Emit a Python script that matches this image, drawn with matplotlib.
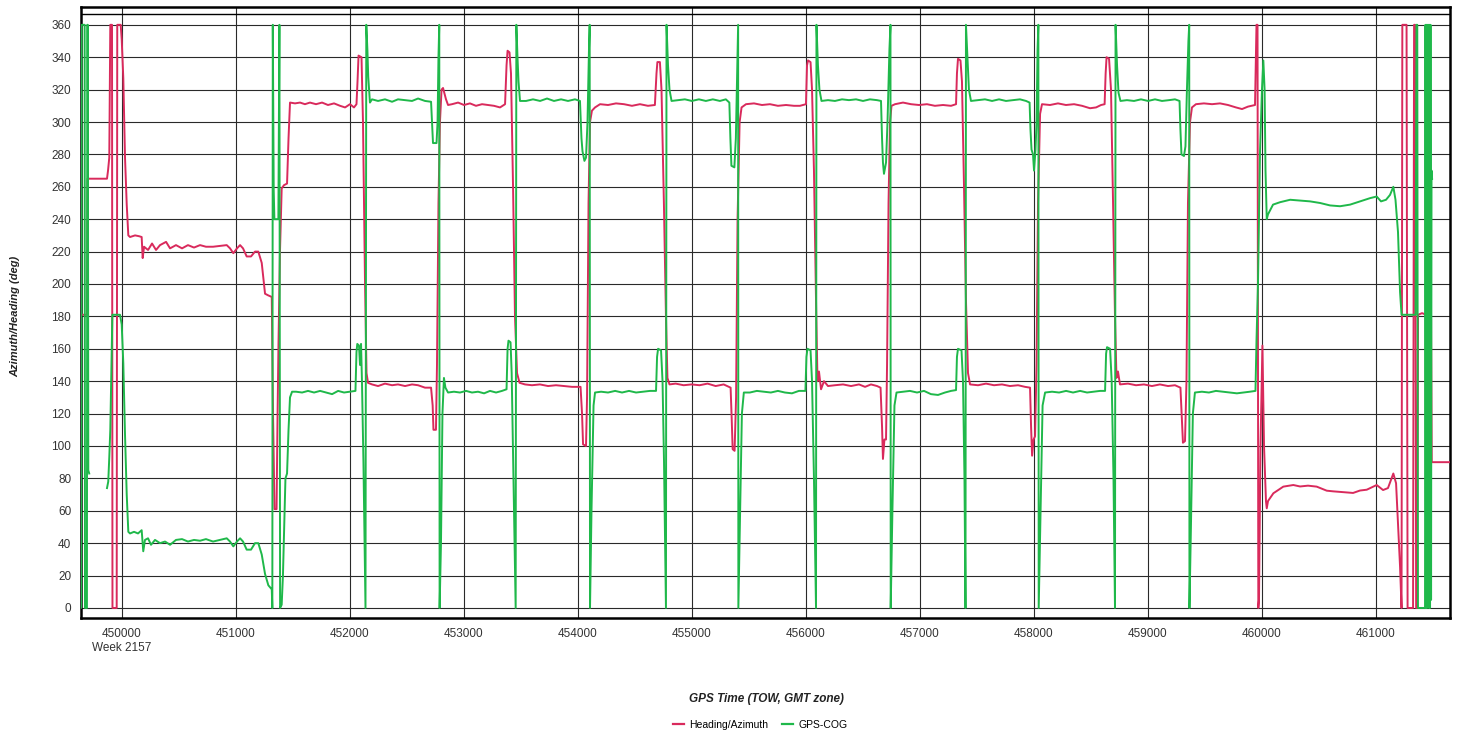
import numpy as np
import matplotlib
matplotlib.use('Agg')
import matplotlib.pyplot as plt
from matplotlib.lines import Line2D

plt.rcParams['font.family'] = ['Liberation Sans', 'DejaVu Sans']

# GPS time of week (s) / degrees
heading_pts = [
    (449640, 181), (449696, 181), (449700, 265), (449871, 265), (449880, 270), (449891, 278),
    (449900, 360), (449915, 360), (449919, 0), (449956, 0), (449961, 360), (449991, 360),
    (450000, 351), (450014, 327), (450029, 278), (450044, 249), (450058, 230), (450073, 229),
    (450117, 230), (450152, 229.5), (450175, 229), (450184, 216), (450196, 223), (450231, 221),
    (450266, 225), (450301, 221), (450336, 224), (450389, 226), (450424, 222), (450476, 224),
    (450529, 222), (450581, 224), (450634, 222.5), (450687, 224), (450739, 223), (450801, 223),
    (450862, 223.5), (450921, 224), (450950, 222), (450979, 219), (451011, 222), (451038, 224),
    (451064, 222), (451096, 217), (451134, 217), (451169, 220), (451198, 220), (451228, 213),
    (451257, 194), (451284, 193), (451316, 192), (451327, 120), (451340, 61), (451358, 61),
    (451367, 120), (451375, 163), (451388, 220), (451403, 259), (451423, 261), (451450, 262),
    (451463, 290), (451476, 312),
    (451520, 311.5), (451564, 312), (451607, 311), (451651, 312), (451704, 311), (451757, 312),
    (451809, 310.5), (451862, 311.5), (451915, 310), (451959, 309), (452002, 311), (452037, 309),
    (452059, 311),
    (452068, 325), (452077, 341), (452103, 340), (452116, 300), (452134, 200), (452147, 145),
    (452160, 139),
    (452195, 138), (452248, 137), (452309, 138.5), (452371, 137.5), (452423, 138), (452485, 137),
    (452546, 138), (452599, 137.5), (452660, 136), (452713, 136),
    (452727, 125), (452734, 110), (452756, 110), (452765, 150), (452778, 250), (452791, 300),
    (452805, 320), (452818, 321), (452844, 314), (452862, 310.5),
    (452897, 311), (452950, 312), (453002, 310.5), (453054, 311.5), (453107, 310), (453160, 311),
    (453212, 310.5), (453265, 310), (453318, 309), (453362, 311),
    (453375, 335), (453384, 344), (453401, 343), (453414, 330), (453432, 260), (453449, 180),
    (453467, 145), (453489, 139),
    (453537, 138), (453598, 137.5), (453668, 138), (453739, 137), (453809, 137.5), (453879, 137),
    (453949, 136.5), (454024, 136.5),
    (454037, 120), (454046, 101), (454072, 100), (454081, 130), (454094, 250), (454107, 300),
    (454124, 307), (454151, 309),
    (454195, 311), (454265, 310.5), (454335, 311.5), (454405, 311), (454475, 310), (454545, 311),
    (454615, 310), (454676, 310.5),
    (454690, 330), (454698, 337), (454720, 337), (454734, 320), (454755, 250), (454773, 180),
    (454786, 142), (454804, 138),
    (454858, 138.5), (454928, 137.5), (454998, 138), (455068, 137.5), (455138, 138.5), (455209, 137),
    (455279, 138), (455340, 136),
    (455349, 118), (455358, 98), (455375, 97), (455388, 130), (455401, 240), (455419, 300),
    (455436, 309),
    (455475, 311), (455545, 311.5), (455615, 310.5), (455685, 311), (455755, 310), (455826, 310.5),
    (455896, 310), (455948, 310), (456001, 311),
    (456010, 335), (456019, 338), (456041, 337), (456054, 320), (456071, 270), (456089, 190),
    (456102, 140), (456115, 146), (456133, 135), (456159, 140), (456194, 137),
    (456255, 137.5), (456326, 138), (456396, 137), (456466, 138), (456519, 136.5), (456571, 138),
    (456624, 137), (456655, 136),
    (456668, 112), (456676, 92), (456689, 104), (456703, 104), (456712, 150), (456725, 250),
    (456738, 300), (456751, 310),
    (456782, 311), (456852, 312), (456922, 311), (456992, 310.5), (457062, 311), (457132, 310),
    (457203, 310.5), (457273, 310), (457317, 311),
    (457325, 330), (457334, 339), (457356, 338), (457369, 325), (457387, 260), (457404, 190),
    (457422, 145), (457440, 138),
    (457510, 137.5), (457580, 138.5), (457650, 137.5), (457720, 138), (457790, 137), (457861, 137.5),
    (457922, 136.5), (457966, 136),
    (457975, 112), (457984, 94), (457997, 104), (458010, 106), (458023, 150), (458036, 250),
    (458054, 305), (458071, 311),
    (458141, 310.5), (458211, 311.5), (458281, 310.5), (458352, 311), (458422, 310), (458492, 308.5),
    (458545, 309), (458589, 310.5), (458620, 311),
    (458629, 330), (458637, 340), (458659, 339), (458676, 320), (458694, 250), (458711, 180),
    (458724, 142), (458737, 146), (458755, 138),
    (458825, 138.5), (458895, 137.5), (458965, 138), (459035, 137), (459105, 138), (459176, 137),
    (459237, 137.5), (459285, 136),
    (459299, 115), (459307, 102), (459325, 103), (459338, 140), (459351, 250), (459369, 300),
    (459386, 309),
    (459421, 311), (459491, 311.5), (459562, 311), (459632, 311.5), (459702, 310.5), (459772, 309),
    (459825, 308), (459877, 309.5), (459939, 310.5),
    (459952, 360), (459961, 360), (459968, 0), (459974, 5), (459987, 100), (460004, 162),
    (460018, 100), (460035, 66), (460042, 61.5), (460053, 66), (460100, 70.8), (460187, 74.9),
    (460275, 75.9), (460334, 75), (460404, 75.5), (460480, 74.9), (460568, 72.4), (460623, 72),
    (460711, 71.5), (460799, 71), (460860, 72.5), (460919, 73), (461006, 75.9), (461062, 72.8),
    (461105, 74), (461152, 83), (461176, 77), (461193, 52), (461211, 25.5), (461224, 0),
    (461231, 360), (461268, 360), (461277, 0), (461325, 0), (461334, 360), (461343, 360),
    (461352, 0), (461360, 0), (461369, 181), (461404, 182), (461439, 181), (461474, 182),
    (461480, 95), (461483, 178), (461489, 90), (461660, 90),
]

cog_pts = [
    (449640, 0), (449644, 0), (449648, 360), (449675, 360), (449678, 0), (449695, 0),
    (449698, 360), (449703, 360), (449707, 85), (449715, 83), (np.nan, np.nan),
    (449871, 74), (449882, 78), (449891, 93), (449900, 110), (449910, 150), (449918, 181),
    (449985, 181), (450000, 175), (450014, 151), (450029, 107), (450044, 70), (450058, 47),
    (450073, 46), (450108, 47), (450143, 46), (450175, 48), (450189, 35), (450204, 42),
    (450231, 43), (450257, 39), (450292, 42), (450336, 40), (450380, 41), (450424, 39),
    (450476, 42), (450529, 42.5), (450581, 41), (450634, 42), (450687, 41.5), (450739, 42.5),
    (450801, 41), (450862, 42), (450921, 43), (450950, 41), (450979, 38), (451011, 41),
    (451038, 43), (451064, 41), (451096, 36), (451134, 36), (451169, 40), (451198, 40),
    (451228, 33), (451257, 21), (451286, 14), (451316, 11.5),
    (451321, 0), (451325, 360), (451333, 258), (451339, 240), (451374, 240), (451383, 360),
    (451389, 0), (451403, 2), (451414, 20), (451436, 80), (451450, 83), (451463, 110),
    (451476, 130), (451494, 133.5),
    (451529, 133.5), (451582, 133), (451634, 134), (451687, 133), (451740, 134), (451792, 133),
    (451845, 132), (451898, 134), (451950, 133), (452002, 133.5), (452050, 134),
    (452059, 158), (452066, 163), (452081, 162), (452090, 150), (452099, 163), (452107, 140),
    (452120, 90), (452138, 0), (452145, 360), (452155, 344), (452162, 328), (452177, 312),
    (452195, 314),
    (452248, 313), (452309, 314), (452371, 312.5), (452423, 314), (452485, 313.5), (452546, 313),
    (452599, 314.5), (452660, 313), (452713, 312.5),
    (452721, 300), (452730, 287), (452761, 287), (452770, 300), (452778, 340), (452785, 360),
    (452788, 0), (452800, 40), (452813, 120), (452826, 142), (452839, 136), (452862, 133),
    (452914, 133.5), (452967, 133), (453020, 134), (453072, 133), (453125, 133.5), (453178, 132.5),
    (453230, 134), (453283, 133), (453335, 134), (453375, 135),
    (453384, 160), (453392, 165), (453410, 164), (453420, 145), (453436, 80), (453455, 0),
    (453461, 360), (453471, 340), (453480, 325), (453493, 313),
    (453546, 313), (453607, 314), (453669, 313), (453730, 314.5), (453791, 313), (453853, 314),
    (453914, 313), (453975, 314), (454019, 313),
    (454032, 290), (454041, 282), (454058, 276), (454072, 278), (454085, 300), (454098, 345),
    (454104, 360), (454107, 0), (454120, 60), (454138, 125), (454151, 133),
    (454204, 133.5), (454265, 133), (454327, 134), (454388, 133), (454449, 134), (454511, 133),
    (454572, 133.5), (454633, 134), (454686, 134),
    (454695, 155), (454704, 160), (454730, 159), (454743, 140), (454756, 90), (454773, 0),
    (454778, 360), (454791, 335), (454804, 320), (454822, 313),
    (454878, 313.5), (454939, 314), (455000, 313), (455062, 314), (455123, 313), (455184, 314),
    (455246, 313), (455298, 314), (455329, 312),
    (455338, 290), (455347, 273), (455373, 272), (455386, 290), (455400, 340), (455406, 360),
    (455408, 0), (455421, 50), (455439, 120), (455456, 133),
    (455509, 133), (455570, 134), (455632, 133.5), (455693, 133), (455755, 134), (455816, 133),
    (455878, 132.5), (455939, 134), (455996, 134),
    (456005, 155), (456014, 160), (456041, 159), (456054, 140), (456071, 80), (456089, 0),
    (456093, 360), (456106, 335), (456119, 320), (456137, 313),
    (456194, 313.5), (456255, 313), (456317, 314), (456378, 313.5), (456440, 314), (456501, 313),
    (456562, 314), (456624, 313.5), (456659, 313),
    (456668, 290), (456676, 275), (456685, 268), (456703, 275), (456716, 300), (456733, 345),
    (456742, 360), (456744, 0), (456759, 60), (456777, 125), (456795, 133),
    (456852, 133.5), (456913, 134), (456975, 133), (457036, 134), (457097, 132), (457159, 131.5),
    (457220, 133), (457273, 134), (457317, 134.5),
    (457325, 155), (457334, 160), (457365, 159), (457378, 140), (457391, 80), (457400, 0),
    (457404, 360), (457417, 340), (457430, 320), (457448, 313),
    (457510, 313.5), (457571, 314), (457633, 313), (457694, 314), (457755, 313), (457817, 313.5),
    (457878, 314), (457931, 313), (457962, 312),
    (457970, 295), (457979, 283), (457992, 280), (458001, 270), (458014, 283), (458023, 300),
    (458032, 345), (458039, 360), (458042, 0), (458058, 60), (458076, 125), (458098, 133),
    (458159, 133.5), (458221, 133), (458282, 134), (458343, 133), (458405, 134), (458466, 133),
    (458527, 133.5), (458580, 134), (458624, 134),
    (458633, 157), (458641, 161), (458668, 160), (458682, 140), (458698, 80), (458711, 0),
    (458716, 360), (458729, 335), (458742, 318), (458759, 313),
    (458816, 313.5), (458878, 313), (458939, 314), (459001, 313), (459062, 314), (459123, 313),
    (459185, 313.5), (459237, 314), (459277, 313),
    (459285, 295), (459294, 280), (459316, 279), (459329, 285), (459342, 320), (459355, 350),
    (459362, 360), (459364, 0), (459377, 50), (459394, 120), (459412, 133),
    (459473, 133.5), (459535, 133), (459596, 134), (459657, 133.5), (459719, 133), (459780, 132.5),
    (459841, 133), (459894, 133.5), (459943, 134),
    (459952, 165), (459965, 200), (459983, 282), (460000, 320), (460012, 338), (460023, 320),
    (460031, 270), (460042, 240), (460053, 243), (460097, 249), (460159, 250.5), (460247, 252),
    (460334, 251.5), (460422, 251), (460510, 250), (460597, 248.5), (460685, 248), (460773, 249),
    (460860, 251), (460948, 253), (461006, 254), (461044, 251), (461088, 252), (461123, 255),
    (461152, 260), (461171, 252), (461193, 232), (461211, 195), (461224, 181), (461347, 181),
    (461355, 360), (461362, 360), (461368, 0), (461430, 0), (461434, 360), (461439, 0),
    (461443, 360), (461448, 0), (461452, 360), (461456, 10), (461461, 360), (461465, 0),
    (461469, 360), (461474, 0), (461478, 360), (461483, 5), (461487, 270), (461492, 265),
]

x_ticks = list(range(450000, 461001, 1000))
y_ticks = list(range(0, 361, 20))
series_names = ['Heading/Azimuth', 'GPS-COG']
red = '#d92a5c'
green = '#1fb84a'

heading_t, heading_deg = zip(*heading_pts)
cog_t, cog_deg = zip(*cog_pts)

fig = plt.figure(figsize=(14.6, 7.4), dpi=100)
ax = fig.add_axes([81 / 1460, 1 - 618 / 740, 1369 / 1460, 611 / 740])

ax.plot(heading_t, heading_deg, color=red, lw=1.4, zorder=3)
ax.plot(cog_t, cog_deg, color=green, lw=1.4, zorder=4)

ax.set_xlim(449643, 461649)
ax.set_ylim(-6.2, 371)
ax.set_xticks(x_ticks)
ax.set_xticklabels([str(t) for t in x_ticks])
ax.set_yticks(y_ticks)
ax.grid(True, color='#2a2a2a', lw=0.8, zorder=1)
ax.axhline(366.7, color='black', lw=1.0, zorder=2)
ax.tick_params(length=0, labelsize=8.5, labelcolor='#333333', pad=7)
for s in ax.spines.values():
    s.set_linewidth(1.8)
    s.set_color('black')

ax.annotate('Week 2157', xy=(450000, 0), xycoords=('data', 'axes fraction'),
            xytext=(0, -21.5), textcoords='offset points', ha='center', va='center',
            fontsize=8.5, color='#333333')

fig.text(15 / 1460, 1 - 316 / 740, 'Azimuth/Heading (deg)', rotation=90,
         ha='center', va='center', fontsize=8, fontweight='bold', fontstyle='italic',
         color='#222222')
fig.text(766 / 1460, 1 - 699 / 740, 'GPS Time (TOW, GMT zone)', ha='center', va='center',
         fontsize=8.5, fontweight='bold', fontstyle='italic', color='#222222')

handles = [Line2D([], [], color=red, lw=1.6), Line2D([], [], color=green, lw=1.6)]
fig.legend(handles, series_names, loc='center', bbox_to_anchor=(760 / 1460, 1 - 725 / 740),
           ncol=2, frameon=False, fontsize=7.5, handlelength=1.1, handletextpad=0.5,
           columnspacing=1.3)

fig.savefig('out.png', dpi=100)
